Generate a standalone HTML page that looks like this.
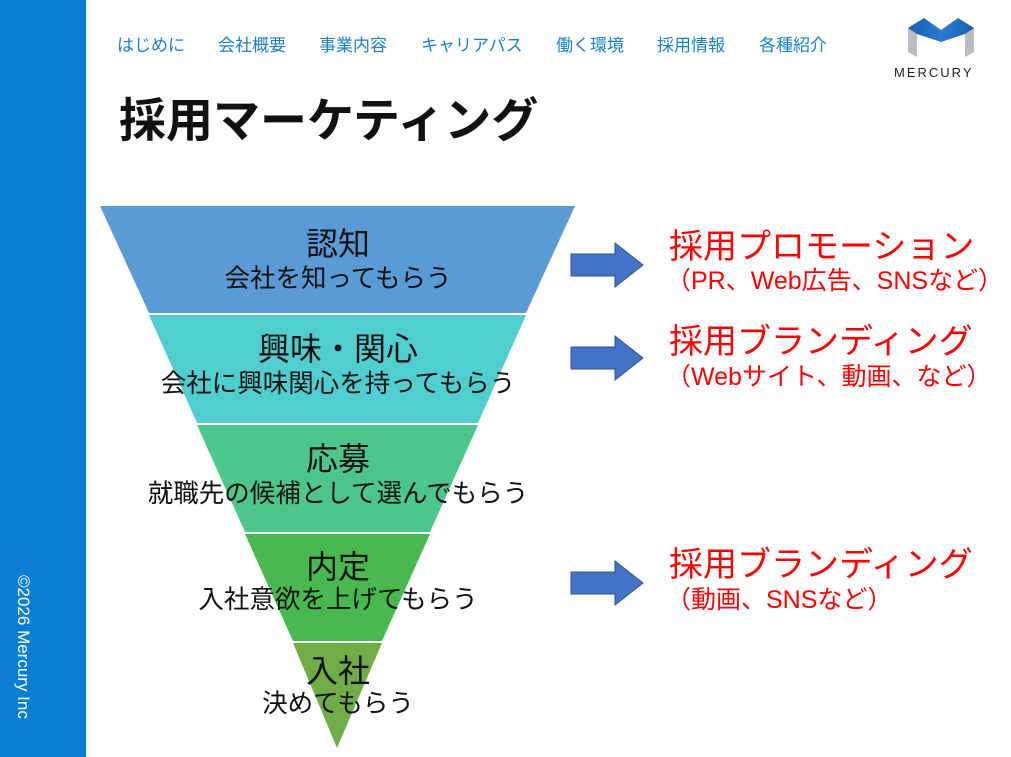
<!DOCTYPE html>
<html><head><meta charset="utf-8"><style>
html,body{margin:0;padding:0;background:#fff;}
svg{display:block;}
text{font-family:"Liberation Sans","Noto Sans CJK JP",sans-serif;}
</style></head><body>
<svg width="1011" height="757" viewBox="0 0 1011 757" xmlns="http://www.w3.org/2000/svg">
<rect x="0" y="0" width="86" height="757" fill="#0a7fd2"/>
<text transform="translate(18,575) rotate(90)" font-size="17" fill="#fff">©2026 Mercury Inc</text>
<g font-size="17" fill="#1a7fc9">
<text x="117" y="51">はじめに</text>
<text x="218" y="51">会社概要</text>
<text x="319" y="51">事業内容</text>
<text x="421" y="51">キャリアパス</text>
<text x="556" y="51">働く環境</text>
<text x="657" y="51">採用情報</text>
<text x="759" y="51">各種紹介</text>
</g>
<defs><linearGradient id="mg" x1="0" y1="0" x2="1" y2="0"><stop offset="0" stop-color="#1a5fb0"/><stop offset="0.5" stop-color="#2a7ad0"/><stop offset="1" stop-color="#1a5fb0"/></linearGradient></defs>
<polygon points="908,28 924,18 941,30 958,18 974,28 974,52 965,57 965,34 941,40 917,34 917,57 908,52" fill="#b9bcc0"/>
<polygon points="908,28 924,18 941,30 958,18 974,28 965,34 941,42 917,34" fill="url(#mg)"/>
<text x="894" y="77" font-size="13" letter-spacing="2" fill="#222">MERCURY</text>
<text x="119" y="137" font-size="47" font-weight="bold" fill="#111">採用マーケティング</text>
<polygon points="100,206 575,206 526,313 149,313" fill="#5b9bd5"/>
<polygon points="149,315 526,315 478,423 197,423" fill="#4fcdcf"/>
<polygon points="197,425 478,425 430,532 245,532" fill="#4dc68b"/>
<polygon points="245,534 430,534 382,641 293,641" fill="#47b94f"/>
<polygon points="293,643 382,643 337,748" fill="#70ad47"/>
<g fill="#111" text-anchor="middle">
<text x="338" y="255" font-size="32">認知</text>
<text x="338" y="287" font-size="25.5">会社を知ってもらう</text>
<text x="338" y="360" font-size="32">興味・関心</text>
<text x="338" y="392" font-size="25.5">会社に興味関心を持ってもらう</text>
<text x="338" y="470" font-size="32">応募</text>
<text x="338" y="502" font-size="25.5">就職先の候補として選んでもらう</text>
<text x="338" y="578" font-size="32">内定</text>
<text x="338" y="608" font-size="25.5">入社意欲を上げてもらう</text>
<text x="338" y="682" font-size="32">入社</text>
<text x="338" y="712" font-size="25.5">決めてもらう</text>
</g>
<g fill="#4472c4" stroke="#2f528f" stroke-width="1">
<polygon points="571,254 615,254 615,243 643,265 615,287 615,276 571,276"/>
<polygon points="571,347 615,347 615,336 643,358 615,380 615,369 571,369"/>
<polygon points="571,572 615,572 615,561 643,583 615,605 615,594 571,594"/>
</g>
<g fill="#ff0000">
<text x="669" y="258" font-size="34">採用プロモーション</text>
<text x="666" y="289" font-size="25">（PR、Web広告、SNSなど）</text>
<text x="669" y="353" font-size="34">採用ブランディング</text>
<text x="666" y="385" font-size="25">（Webサイト、動画、など）</text>
<text x="669" y="576" font-size="34">採用ブランディング</text>
<text x="666" y="608" font-size="25">（動画、SNSなど）</text>
</g>
</svg>
</body></html>
